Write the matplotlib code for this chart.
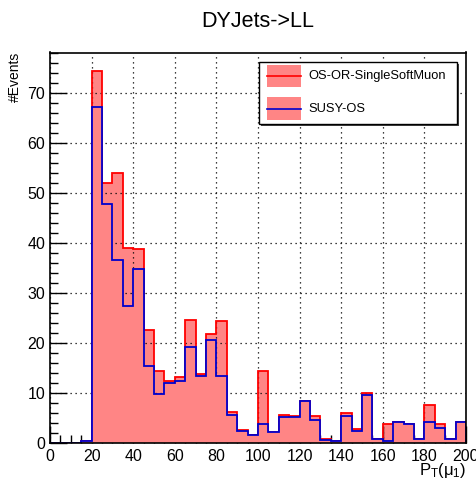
import numpy as np
import matplotlib
matplotlib.use("Agg")
import matplotlib.pyplot as plt
from matplotlib.ticker import MultipleLocator
from matplotlib.patches import Rectangle
from matplotlib.lines import Line2D

plt.rcParams['font.family'] = ['Liberation Sans', 'DejaVu Sans']
plt.rcParams['mathtext.fontset'] = 'custom'
plt.rcParams['mathtext.rm'] = 'Liberation Sans'
plt.rcParams['mathtext.it'] = 'Liberation Sans'

bin_edges = np.arange(0, 205, 5)

red_values = [0, 0, 0, 0.5,
              74.4, 52.0, 54.0, 38.9, 38.8, 22.6, 14.4, 12.5, 13.1, 24.6,
              13.8, 21.8, 24.4, 6.1, 2.6, 1.7,
              14.4, 2.2, 5.7, 5.5, 8.5, 5.5, 0.9, 0.5, 6.0, 2.8,
              10.0, 0.9, 3.9, 4.2, 3.9, 0.9, 7.7, 3.9, 0.9, 4.2]
blue_values = [0, 0, 0, 0.5,
               67.1, 47.7, 36.6, 27.3, 34.7, 15.4, 9.8, 12.1, 12.3, 19.1,
               13.5, 20.6, 13.3, 5.7, 2.3, 1.6,
               3.8, 2.2, 5.2, 5.1, 8.4, 4.7, 0.7, 0.5, 5.4, 2.3,
               9.7, 0.9, 0.4, 4.2, 3.9, 0.9, 4.2, 3.0, 0.9, 4.2]
labels = ["OS-OR-SingleSoftMuon", "SUSY-OS"]
line_colors = ['#ff0000', '#0000cc']

W, H = 477, 480
fig = plt.figure(figsize=(W/100, H/100), dpi=100)
ax = fig.add_axes([50/W, 1-443/H, 416/W, (443-52.5)/H])

fillc = '#ff8585'
centers = bin_edges[:-1] + 2.5
ax.hist(centers, bins=bin_edges, weights=red_values, histtype='stepfilled',
        color=fillc, zorder=2)
ax.hist(centers, bins=bin_edges, weights=red_values, histtype='step',
        color=line_colors[0], lw=1.3, zorder=3)
ax.hist(centers, bins=bin_edges, weights=blue_values, histtype='stepfilled',
        color=fillc, zorder=4)
ax.hist(centers, bins=bin_edges, weights=blue_values, histtype='step',
        color=line_colors[1], lw=1.3, zorder=5)

ax.set_xlim(0, 200)
ax.set_ylim(0, 78.1)
ax.xaxis.set_major_locator(MultipleLocator(20))
ax.xaxis.set_minor_locator(MultipleLocator(5))
ax.yaxis.set_major_locator(MultipleLocator(10))
ax.yaxis.set_minor_locator(MultipleLocator(2))
ax.tick_params(which='major', direction='in', length=12, width=1, labelsize=11.5,
               top=False, right=False)
ax.tick_params(which='minor', direction='in', length=6, width=1,
               top=False, right=False)
ax.tick_params(axis='x', pad=4)
ax.grid(True, which='major', color='black', linestyle=(0, (1, 3)), lw=0.9, zorder=1)
ax.set_axisbelow(False)
for s in ax.spines.values():
    s.set_linewidth(1.2)
    s.set_zorder(6)

fig.text(257.5/W, 1-21.5/H, "DYJets->LL", ha='center', va='center', fontsize=15.5)
fig.text(15/W, 1-52/H, "#Events", rotation=90, ha='center', va='top', fontsize=10)
fig.text(466/W, 1-461/H, r"$\mathrm{P}_{\mathrm{T}}(\mu_{1})$", ha='right', va='top', fontsize=12)

# legend drawn in figure pixel coordinates
def fx(x):
    return x / W

def fy(y):
    return 1 - y / H

fig.patches.append(Rectangle((fx(261), fy(126)), fx(459) - fx(261), fy(63.7) - fy(126),
                             transform=fig.transFigure, facecolor='#444444',
                             edgecolor='none', zorder=9))
fig.patches.append(Rectangle((fx(259), fy(124)), fx(457) - fx(259), fy(61.7) - fy(124),
                             transform=fig.transFigure, facecolor='white',
                             edgecolor='black', lw=1.0, zorder=10))
for i, (lab, lc) in enumerate(zip(labels, line_colors)):
    yc = 76 + i * 32.5
    fig.patches.append(Rectangle((fx(267), fy(yc + 11)), fx(301) - fx(267), fy(yc - 11) - fy(yc + 11),
                                 transform=fig.transFigure, facecolor=fillc,
                                 edgecolor='none', zorder=11))
    fig.lines.append(Line2D([fx(267), fx(301)], [fy(yc), fy(yc)], transform=fig.transFigure,
                            color=lc, lw=1.2, zorder=12))
    fig.text(fx(308), fy(yc), lab, ha='left', va='center', fontsize=9.3, zorder=12)

fig.savefig("out.png", dpi=100)
